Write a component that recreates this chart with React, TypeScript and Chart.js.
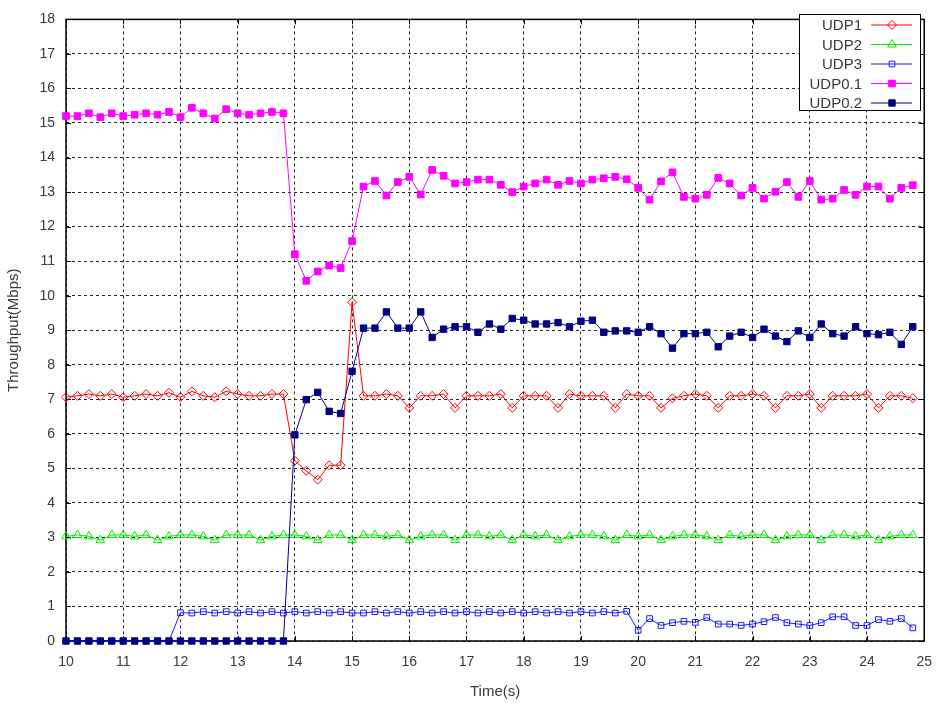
import React, { useEffect, useRef } from "react";
import { Chart, registerables } from "chart.js";
import { drawPoint } from "chart.js/helpers";

Chart.register(...registerables);

const times = [
  10, 10.2, 10.4, 10.6, 10.8, 11, 11.2, 11.4, 11.6, 11.8,
  12, 12.2, 12.4, 12.6, 12.8, 13, 13.2, 13.4, 13.6, 13.8,
  14, 14.2, 14.4, 14.6, 14.8, 15, 15.2, 15.4, 15.6, 15.8,
  16, 16.2, 16.4, 16.6, 16.8, 17, 17.2, 17.4, 17.6, 17.8,
  18, 18.2, 18.4, 18.6, 18.8, 19, 19.2, 19.4, 19.6, 19.8,
  20, 20.2, 20.4, 20.6, 20.8, 21, 21.2, 21.4, 21.6, 21.8,
  22, 22.2, 22.4, 22.6, 22.8, 23, 23.2, 23.4, 23.6, 23.8,
  24, 24.2, 24.4, 24.6, 24.8,
];

const udp1 = [
  7.06, 7.1, 7.15, 7.1, 7.15, 7.06, 7.1, 7.15, 7.1, 7.19,
  7.06, 7.23, 7.1, 7.06, 7.23, 7.15, 7.1, 7.1, 7.15, 7.15,
  5.22, 4.93, 4.67, 5.09, 5.09, 9.81, 7.1, 7.1, 7.15, 7.1,
  6.75, 7.1, 7.1, 7.15, 6.75, 7.1, 7.1, 7.1, 7.15, 6.75,
  7.1, 7.1, 7.1, 6.75, 7.15, 7.1, 7.1, 7.1, 6.75, 7.15,
  7.1, 7.1, 6.75, 7.03, 7.1, 7.15, 7.1, 6.75, 7.1, 7.1,
  7.15, 7.1, 6.75, 7.1, 7.1, 7.15, 6.75, 7.1, 7.1, 7.1,
  7.15, 6.75, 7.1, 7.1, 7.03,
];

const udp2 = [
  3.03, 3.07, 3.03, 2.92, 3.07, 3.07, 3.03, 3.07, 2.92, 3.03,
  3.07, 3.07, 3.03, 2.92, 3.07, 3.07, 3.07, 2.92, 3.03, 3.07,
  3.07, 3.03, 2.92, 3.07, 3.07, 2.92, 3.07, 3.07, 3.03, 3.07,
  2.92, 3.03, 3.07, 3.07, 2.92, 3.07, 3.07, 3.03, 3.07, 2.92,
  3.07, 3.03, 3.07, 2.92, 3.03, 3.07, 3.07, 3.03, 2.92, 3.07,
  3.03, 3.07, 2.92, 3.03, 3.07, 3.07, 3.03, 2.92, 3.07, 3.03,
  3.07, 3.07, 2.92, 3.03, 3.07, 3.07, 2.92, 3.07, 3.07, 3.03,
  3.07, 2.92, 3.03, 3.07, 3.07,
];

const udp3 = [
  0, 0, 0, 0, 0, 0, 0, 0, 0, 0,
  0.82, 0.81, 0.85, 0.81, 0.85, 0.81, 0.85, 0.81, 0.85, 0.81,
  0.85, 0.81, 0.85, 0.81, 0.85, 0.81, 0.81, 0.85, 0.81, 0.85,
  0.81, 0.85, 0.81, 0.85, 0.81, 0.85, 0.81, 0.85, 0.81, 0.85,
  0.81, 0.85, 0.81, 0.85, 0.81, 0.85, 0.81, 0.85, 0.81, 0.86,
  0.31, 0.65, 0.45, 0.53, 0.57, 0.54, 0.68, 0.49, 0.49, 0.45,
  0.49, 0.56, 0.68, 0.53, 0.49, 0.45, 0.53, 0.7, 0.7, 0.45,
  0.45, 0.62, 0.57, 0.65, 0.38,
];

const udp01 = [
  15.2, 15.2, 15.28, 15.17, 15.28, 15.2, 15.24, 15.28, 15.24, 15.32,
  15.17, 15.44, 15.28, 15.13, 15.4, 15.28, 15.24, 15.28, 15.32, 15.28,
  11.2, 10.43, 10.7, 10.87, 10.8, 11.58, 13.16, 13.32, 12.9, 13.29,
  13.44, 12.93, 13.64, 13.47, 13.25, 13.29, 13.36, 13.36, 13.21, 13.0,
  13.16, 13.25, 13.36, 13.21, 13.32, 13.25, 13.36, 13.4, 13.44, 13.37,
  13.12, 12.78, 13.31, 13.57, 12.86, 12.81, 12.92, 13.41, 13.25, 12.9,
  13.12, 12.81, 13.01, 13.29, 12.86, 13.32, 12.78, 12.81, 13.06, 12.92,
  13.16, 13.16, 12.81, 13.12, 13.2,
];

const udp02 = [
  0, 0, 0, 0, 0, 0, 0, 0, 0, 0,
  0, 0, 0, 0, 0, 0, 0, 0, 0, 0,
  5.97, 6.99, 7.2, 6.65, 6.59, 7.81, 9.06, 9.06, 9.53, 9.06,
  9.06, 9.53, 8.79, 9.03, 9.1, 9.1, 8.94, 9.18, 9.03, 9.34,
  9.29, 9.18, 9.18, 9.22, 9.1, 9.26, 9.29, 8.94, 8.98, 8.98,
  8.94, 9.1, 8.9, 8.48, 8.9, 8.9, 8.94, 8.52, 8.83, 8.94,
  8.79, 9.03, 8.83, 8.67, 8.98, 8.79, 9.18, 8.9, 8.83, 9.1,
  8.9, 8.87, 8.94, 8.59, 9.1,
];

const seriesNames = ["UDP1", "UDP2", "UDP3", "UDP0.1", "UDP0.2"];
const xTickValues = [10, 11, 12, 13, 14, 15, 16, 17, 18, 19, 20, 21, 22, 23, 24, 25];
const yTickValues = [0, 1, 2, 3, 4, 5, 6, 7, 8, 9, 10, 11, 12, 13, 14, 15, 16, 17, 18];

const FONT = "'Liberation Sans', Arial, sans-serif";
const TEXT = "#3a3a3a";

const framePlugin = {
  id: "frame",
  beforeDatasetsDraw(chart: any) {
    const { ctx, chartArea: a, scales } = chart;
    ctx.save();
    ctx.strokeStyle = "#000";
    ctx.lineWidth = 1;
    const tl = 5;
    ctx.beginPath();
    for (const v of yTickValues) {
      const y = Math.round(scales.y.getPixelForValue(v)) + 0.5;
      ctx.moveTo(a.left, y);
      ctx.lineTo(a.left + tl, y);
      ctx.moveTo(a.right, y);
      ctx.lineTo(a.right - tl, y);
    }
    for (const v of xTickValues) {
      const x = Math.round(scales.x.getPixelForValue(v)) + 0.5;
      ctx.moveTo(x, a.bottom);
      ctx.lineTo(x, a.bottom - tl);
      ctx.moveTo(x, a.top);
      ctx.lineTo(x, a.top + tl);
    }
    ctx.stroke();
    ctx.lineWidth = 1.5;
    ctx.strokeRect(a.left, a.top, a.right - a.left, a.bottom - a.top);
    ctx.restore();
  },
};

const legendPlugin = {
  id: "customLegend",
  afterDraw(chart: any) {
    const { ctx } = chart;
    const bx = 799.5, by = 14.5, bw = 121, bh = 96;
    ctx.save();
    ctx.fillStyle = "#fff";
    ctx.fillRect(bx, by, bw, bh);
    ctx.strokeStyle = "#000";
    ctx.lineWidth = 1;
    ctx.strokeRect(bx, by, bw, bh);
    ctx.font = `15px ${FONT}`;
    ctx.textAlign = "right";
    ctx.textBaseline = "middle";
    chart.data.datasets.forEach((ds: any, i: number) => {
      const y = 25 + i * 19.5;
      ctx.fillStyle = TEXT;
      ctx.fillText(ds.label, 862, y + 1);
      ctx.strokeStyle = ds.borderColor;
      ctx.lineWidth = 1;
      ctx.beginPath();
      ctx.moveTo(871, y);
      ctx.lineTo(912, y);
      ctx.stroke();
      ctx.fillStyle = ds.pointBackgroundColor;
      ctx.strokeStyle = ds.borderColor;
      drawPoint(ctx, { pointStyle: ds.pointStyle, radius: ds.pointRadius, borderWidth: 1, rotation: 0 } as any, 892, y);
    });
    ctx.restore();
  },
};

export default function App() {
  const ref = useRef<HTMLCanvasElement>(null);
  useEffect(() => {
    const mk = (vals: number[]) => times.map((t, i) => ({ x: t, y: vals[i] }));
    const base = { borderWidth: 1, pointBorderWidth: 1, tension: 0, clip: false as any, fill: false };
    const chart = new Chart(ref.current as HTMLCanvasElement, {
      type: "line",
      data: {
        datasets: [
          { ...base, label: seriesNames[0], data: mk(udp1), borderColor: "#ff0000", pointBackgroundColor: "rgba(0,0,0,0)", pointStyle: "rectRot", pointRadius: 4.5, order: 5 },
          { ...base, label: seriesNames[1], data: mk(udp2), borderColor: "#00ee00", pointBackgroundColor: "rgba(0,0,0,0)", pointStyle: "triangle", pointRadius: 5, order: 4 },
          { ...base, label: seriesNames[2], data: mk(udp3), borderColor: "#1a1aff", pointBackgroundColor: "rgba(0,0,0,0)", pointStyle: "rect", pointRadius: 4, order: 3 },
          { ...base, label: seriesNames[3], data: mk(udp01), borderColor: "#ff00ff", pointBackgroundColor: "#ff00ff", pointStyle: "rect", pointRadius: 4.7, order: 2 },
          { ...base, label: seriesNames[4], data: mk(udp02), borderColor: "#000080", pointBackgroundColor: "#000080", pointStyle: "rect", pointRadius: 4.5, order: 1 },
        ] as any,
      },
      options: {
        animation: false,
        responsive: false,
        events: [],
        layout: { padding: { top: 9, right: 15, left: 0, bottom: 0 } },
        plugins: { legend: { display: false }, tooltip: { enabled: false } },
        scales: {
          x: {
            type: "linear",
            min: 10,
            max: 25,
            afterBuildTicks: (s: any) => { s.ticks = xTickValues.map((v) => ({ value: v })); },
            afterFit: (s: any) => { s.height = 64; },
            ticks: { padding: 13, color: TEXT, font: { family: FONT, size: 14 } },
            grid: { color: "rgba(0,0,0,0.85)", lineWidth: 1, drawTicks: false },
            border: { display: false, dash: [3, 3] },
            title: { display: true, text: "Time(s)", color: TEXT, font: { family: FONT, size: 15 }, padding: { top: 0, bottom: 4 } },
          },
          y: {
            type: "linear",
            min: 0,
            max: 18,
            afterBuildTicks: (s: any) => { s.ticks = yTickValues.map((v) => ({ value: v })); },
            afterFit: (s: any) => { s.width = 66; },
            ticks: { padding: 11, color: TEXT, font: { family: FONT, size: 14 } },
            grid: { color: "rgba(0,0,0,0.85)", lineWidth: 1, drawTicks: false },
            border: { display: false, dash: [3, 3] },
            title: { display: true, text: "Throughput(Mbps)", color: TEXT, font: { family: FONT, size: 15 }, padding: { top: 5, bottom: 0 } },
          },
        },
      } as any,
      plugins: [framePlugin, legendPlugin],
    });
    return () => chart.destroy();
  }, []);
  return (
    <div style={{ position: "fixed", left: 0, top: 0, width: 945, height: 705, background: "#fff" }}>
      <canvas ref={ref} width={945} height={705} style={{ display: "block" }} />
    </div>
  );
}
